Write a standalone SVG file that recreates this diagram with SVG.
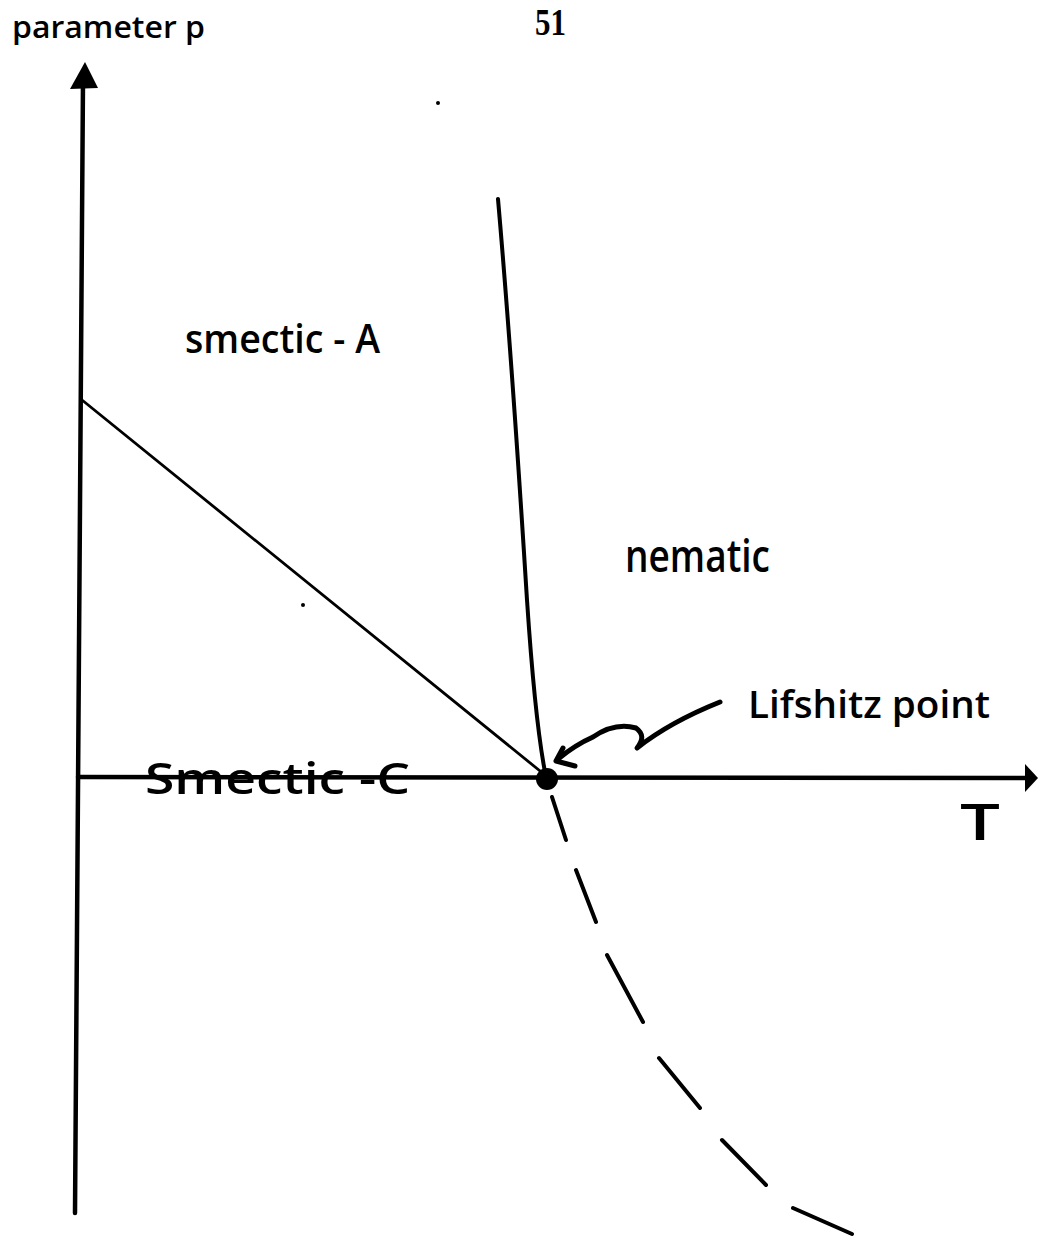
<svg xmlns="http://www.w3.org/2000/svg" width="1038" height="1243" viewBox="0 0 1038 1243">
<style>
.hand{font-family:"Open Sans","DejaVu Sans",sans-serif;fill:#000;font-weight:600;}
.ln{stroke:#000;fill:none;stroke-linecap:round;stroke-linejoin:round;}
</style>
<rect width="1038" height="1243" fill="#fff"/>
<g id="axes">
<path class="ln" d="M83 80 L75 1213" stroke-width="4.5"/>
<polygon points="85,62 70,89 98,88" fill="#000"/>
<path class="ln" d="M78 777 L1026 778" stroke-width="4.5"/>
<polygon points="1038,778 1025,764 1025,792" fill="#000"/>
</g>
<g id="connectors">
<path id="sa-sc" class="ln" d="M82 400 L545 775" stroke-width="2.8"/>
<path id="sa-n" class="ln" d="M498 199 Q512 360 527 600 Q535 720 545 772" stroke-width="4"/>
<path id="dashed" class="ln" stroke-width="4" d="M552 797 L566 840 M576 870 L596 922 M607 955 L643 1022 M659 1058 L700 1108 M722 1140 L766 1185 M793 1208 Q825 1222 852 1234"/>
<path id="lif-arrow" class="ln" stroke-width="5" d="M720 702 Q670 722 637 748 Q647 736 636 728 Q615 722 593 737 Q575 745 558 759"/>
<path class="ln" stroke-width="5" d="M563 748 L556 761 L575 766"/>
</g>
<g id="lifshitz-point"><circle cx="547" cy="779" r="11" fill="#000"/></g>
<circle cx="438" cy="103" r="2" fill="#000"/>
<circle cx="303" cy="605" r="2" fill="#000"/>
<g id="labels">
<text class="hand" x="12" y="38" font-size="31" textLength="193" lengthAdjust="spacingAndGlyphs">parameter p</text>
<text x="535" y="35" font-family="Liberation Serif,serif" font-size="38" font-weight="bold" textLength="31" lengthAdjust="spacingAndGlyphs">51</text>
<text class="hand" x="185" y="353" font-size="40" textLength="195" lengthAdjust="spacingAndGlyphs">smectic - A</text>
<text class="hand" x="625" y="572" font-size="46" textLength="145" lengthAdjust="spacingAndGlyphs">nematic</text>
<text class="hand" x="748" y="718" font-size="38" textLength="242" lengthAdjust="spacingAndGlyphs">Lifshitz point</text>
<text class="hand" x="145" y="794" font-size="44" textLength="265" lengthAdjust="spacingAndGlyphs">Smectic -C</text>
<text class="hand" x="960" y="840" font-size="50" textLength="40" lengthAdjust="spacingAndGlyphs">T</text>
</g>
</svg>
